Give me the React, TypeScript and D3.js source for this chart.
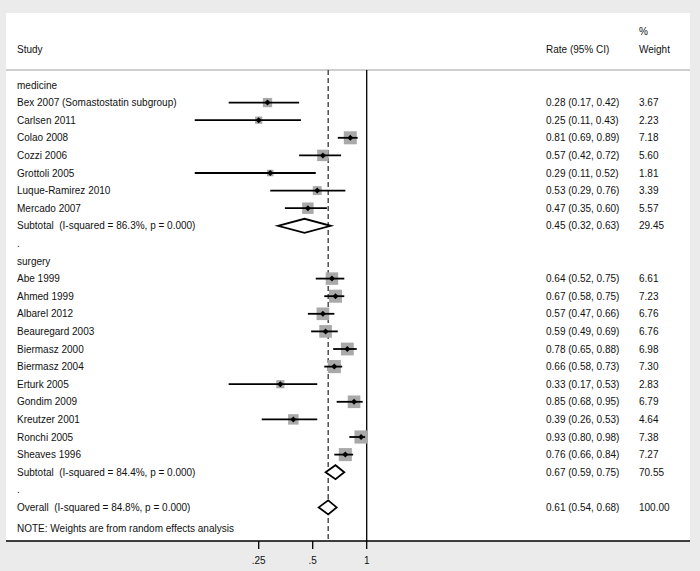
import * as d3 from "d3";

// medicine group
const medStudies = [
  "Bex 2007 (Somastostatin subgroup)",
  "Carlsen 2011",
  "Colao 2008",
  "Cozzi 2006",
  "Grottoli 2005",
  "Luque-Ramirez 2010",
  "Mercado 2007",
];
const medRate = [0.28, 0.25, 0.81, 0.57, 0.29, 0.53, 0.47];
const medLo = [0.17, 0.11, 0.69, 0.42, 0.11, 0.29, 0.35];
const medHi = [0.42, 0.43, 0.89, 0.72, 0.52, 0.76, 0.6];
const medWeight = [3.67, 2.23, 7.18, 5.6, 1.81, 3.39, 5.57];

// surgery group
const surgStudies = [
  "Abe 1999",
  "Ahmed 1999",
  "Albarel 2012",
  "Beauregard 2003",
  "Biermasz 2000",
  "Biermasz 2004",
  "Erturk 2005",
  "Gondim 2009",
  "Kreutzer 2001",
  "Ronchi 2005",
  "Sheaves 1996",
];
const surgRate = [0.64, 0.67, 0.57, 0.59, 0.78, 0.66, 0.33, 0.85, 0.39, 0.93, 0.76];
const surgLo = [0.52, 0.58, 0.47, 0.49, 0.65, 0.58, 0.17, 0.68, 0.26, 0.8, 0.66];
const surgHi = [0.75, 0.75, 0.66, 0.69, 0.88, 0.73, 0.53, 0.95, 0.53, 0.98, 0.84];
const surgWeight = [6.61, 7.23, 6.76, 6.76, 6.98, 7.3, 2.83, 6.79, 4.64, 7.38, 7.27];

// pooled estimates: [rate, lo, hi, weight, I-squared]
const medPooled = [0.45, 0.32, 0.63, 29.45, 86.3];
const surgPooled = [0.67, 0.59, 0.75, 70.55, 84.4];
const overallPooled = [0.61, 0.54, 0.68, 100.0, 84.8];

const xTicks = [0.25, 0.5, 1];
const xTickLabels = [".25", ".5", "1"];

type Row =
  | { kind: "label"; text: string }
  | { kind: "study"; text: string; rate: number; lo: number; hi: number; w: number }
  | { kind: "pooled"; text: string; rate: number; lo: number; hi: number; w: number };

const pooledRow = (label: string, p: number[]): Row => ({
  kind: "pooled",
  text: `${label}  (I-squared = ${p[4].toFixed(1)}%, p = 0.000)`,
  rate: p[0],
  lo: p[1],
  hi: p[2],
  w: p[3],
});

const rows: Row[] = [
  { kind: "label", text: "medicine" },
  ...medStudies.map((s, i) => ({
    kind: "study" as const,
    text: s,
    rate: medRate[i],
    lo: medLo[i],
    hi: medHi[i],
    w: medWeight[i],
  })),
  pooledRow("Subtotal", medPooled),
  { kind: "label", text: "." },
  { kind: "label", text: "surgery" },
  ...surgStudies.map((s, i) => ({
    kind: "study" as const,
    text: s,
    rate: surgRate[i],
    lo: surgLo[i],
    hi: surgHi[i],
    w: surgWeight[i],
  })),
  pooledRow("Subtotal", surgPooled),
  { kind: "label", text: "." },
  pooledRow("Overall", overallPooled),
];

const W = 700;
const H = 571;
const font = "'Liberation Sans', Arial, Helvetica, sans-serif";
const ink = "#111";

export default function App() {
  const x = d3.scaleLog().base(2).domain([0.25, 1]).range([258.7, 366.7]);
  const y = d3.scaleLinear().domain([0, 1]).range([85, 102.6]);
  const f2 = d3.format(".2f");

  const panel = { left: 6, right: 690, top: 13, bottom: 541 };
  const headerY = 70;
  const rateX = 546;
  const weightX = 639;
  const textX = 17;

  const diamond = (cx: number, cy: number, x0: number, x1: number, h: number) =>
    `M${x0},${cy} L${cx},${cy - h} L${x1},${cy} L${cx},${cy + h} Z`;

  const txt = (key: string | number, tx: number, ty: number, s: string) => (
    <text key={key} x={tx} y={ty} fontSize={10} fill={ink} dominantBaseline="central" style={{ whiteSpace: "pre" }}>
      {s}
    </text>
  );

  return (
    <div style={{ position: "fixed", left: 0, top: 0 }}>
      <svg width={W} height={H} style={{ display: "block", fontFamily: font }}>
        <rect x={0} y={0} width={W} height={H} fill="#ebebeb" />
        <rect
          x={panel.left}
          y={panel.top}
          width={panel.right - panel.left}
          height={panel.bottom - panel.top}
          fill="#ffffff"
        />

        {/* header */}
        {txt("h1", textX, 49, "Study")}
        {txt("h2", rateX, 49, "Rate (95% CI)")}
        {txt("h3", weightX, 31, "%")}
        {txt("h4", weightX, 49, "Weight")}
        <line x1={panel.left} x2={panel.right} y1={headerY} y2={headerY} stroke="#a0a0a0" strokeWidth={1.2} />

        {/* reference lines */}
        <line x1={x(1)} x2={x(1)} y1={headerY} y2={panel.bottom} stroke="#000" strokeWidth={1.3} />
        <line
          x1={x(overallPooled[0])}
          x2={x(overallPooled[0])}
          y1={headerY}
          y2={panel.bottom}
          stroke="#333"
          strokeWidth={1.3}
          strokeDasharray="5,3"
        />

        {rows.map((r, i) => {
          const cy = y(i);
          if (r.kind === "label") return txt(i, textX, cy, r.text);
          const cx = x(r.rate);
          const side = 4.85 * Math.sqrt(r.w);
          return (
            <g key={i}>
              {txt("a", textX, cy, r.text)}
              {txt("b", rateX, cy, `${f2(r.rate)} (${f2(r.lo)}, ${f2(r.hi)})`)}
              {txt("c", weightX, cy, f2(r.w))}
              {r.kind === "study" ? (
                <g>
                  <rect x={cx - side / 2} y={cy - side / 2} width={side} height={side} fill="#a9a9a9" />
                  <line x1={x(r.lo)} x2={x(r.hi)} y1={cy} y2={cy} stroke="#000" strokeWidth={1.8} />
                  <path d={diamond(cx, cy, cx - 3, cx + 3, 3)} fill="#000" />
                </g>
              ) : (
                <path
                  d={diamond(cx, cy, x(r.lo), x(r.hi), 7)}
                  fill="#fff"
                  stroke="#000"
                  strokeWidth={1.8}
                  strokeLinejoin="miter"
                />
              )}
            </g>
          );
        })}

        {txt("note", textX, 528, "NOTE: Weights are from random effects analysis")}

        {/* x axis */}
        <line x1={panel.left} x2={panel.right} y1={panel.bottom} y2={panel.bottom} stroke="#000" strokeWidth={1.3} />
        {xTicks.map((t, i) => (
          <g key={t}>
            <line x1={x(t)} x2={x(t)} y1={panel.bottom} y2={panel.bottom + 8} stroke="#000" strokeWidth={1.3} />
            <text x={x(t)} y={560} fontSize={10} fill={ink} textAnchor="middle" dominantBaseline="central">
              {xTickLabels[i]}
            </text>
          </g>
        ))}
      </svg>
    </div>
  );
}
